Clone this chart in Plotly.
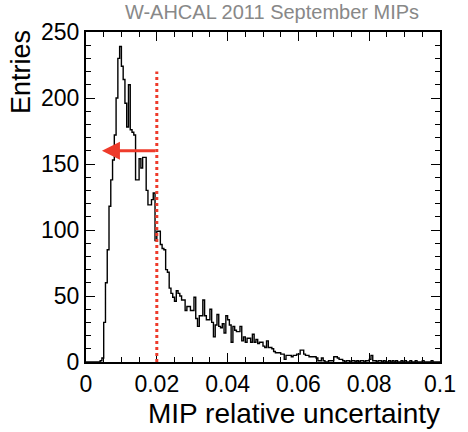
import numpy as np
import plotly.graph_objects as go

# MIP relative uncertainty histogram, 200 bins from 0 to 0.1
bin_width = 0.0005
counts = [
    0, 0, 0, 0, 0, 0, 0, 0, 1, 3,
    30, 60, 85, 118, 138, 153, 172, 200, 230, 239,
    224, 214, 196, 178, 210, 176, 174, 172, 138, 138,
    154, 147, 155, 155, 130, 119, 119, 123, 128, 92,
    99, 99, 89, 86, 85, 70, 68, 56, 52, 49,
    46, 54, 52, 50, 47, 47, 39, 42, 42, 39,
    39, 49, 33, 27, 35, 35, 47, 35, 32, 32,
    40, 30, 19, 28, 36, 27, 26, 29, 22, 35,
    32, 28, 15, 27, 24, 23, 23, 27, 16, 19,
    15, 18, 18, 15, 21, 15, 17, 14, 15, 15,
    12, 11, 16, 11, 11, 10, 8, 7, 7, 7,
    6, 6, 2, 5, 5, 5, 4, 5, 5, 6,
    6, 9, 9, 6, 5, 5, 4, 4, 4, 4,
    3, 1, 1, 3, 1, 0, 0, 1, 1, 1,
    4, 4, 3, 2, 2, 1, 0, 1, 1, 0,
    1, 1, 0, 1, 0, 1, 1, 0, 1, 1,
    2, 5, 1, 1, 0, 1, 1, 0, 1, 0,
    0, 1, 0, 1, 0, 1, 0, 0, 1, 0,
    1, 0, 0, 1, 0, 0, 1, 0, 0, 0,
    1, 0, 0, 0, 0, 1, 0, 0, 0, 0,
]
cut_value = 0.02
cut_height = 220
arrow_level = 160
arrow_tip = 0.0045

title_text = "W-AHCAL 2011 September MIPs"
x_title = "MIP relative uncertainty"
y_title = "Entries"
x_ticks = [0, 0.02, 0.04, 0.06, 0.08, 0.1]
x_ticktext = ["0", "0.02", "0.04", "0.06", "0.08", "0.1"]
y_ticks = [0, 50, 100, 150, 200, 250]

red = "#ee3b2b"
font = "Liberation Sans, Arial, sans-serif"

edges = np.arange(len(counts) + 1) * bin_width
xs = np.concatenate([[edges[0]], edges])
ys = np.concatenate([[0], counts, [counts[-1]]])

fig = go.Figure()
fig.add_trace(go.Scatter(
    x=xs, y=ys, mode="lines", line=dict(color="black", width=1.4, shape="hv"),
    hoverinfo="skip", showlegend=False,
))

# cut line and arrow
fig.add_shape(type="line", x0=cut_value, x1=cut_value, y0=0, y1=cut_height,
              xref="x", yref="y", line=dict(color=red, width=3, dash="dot"))
fig.add_annotation(x=arrow_tip, y=arrow_level, ax=cut_value, ay=arrow_level,
                   xref="x", yref="y", axref="x", ayref="y", text="",
                   showarrow=True, arrowhead=2, arrowsize=1.2, arrowwidth=3,
                   arrowcolor=red)

axis_common = dict(
    showline=True, linecolor="black", linewidth=2, mirror="allticks",
    ticks="inside", ticklen=9, tickwidth=1.2, tickcolor="black",
    showgrid=False, zeroline=False,
    tickfont=dict(family=font, size=23, color="black"),
)

fig.update_xaxes(range=[0, 0.1], tickvals=x_ticks, ticktext=x_ticktext,
                 minor=dict(dtick=0.005, ticklen=5, ticks="inside", tickcolor="black", showgrid=False),
                 **axis_common)
fig.update_yaxes(range=[0, 250], tickvals=y_ticks,
                 minor=dict(dtick=10, ticklen=5, ticks="inside", tickcolor="black", showgrid=False),
                 **axis_common)

fig.add_annotation(text=x_title, xref="paper", yref="paper", x=1.0, y=0,
                   xanchor="right", yanchor="middle", yshift=-51, xshift=2,
                   showarrow=False, font=dict(family=font, size=28, color="black"))
fig.add_annotation(text=y_title, xref="paper", yref="paper", x=0, y=1.0,
                   xanchor="center", yanchor="top", xshift=-65, yshift=4,
                   textangle=-90, showarrow=False,
                   font=dict(family=font, size=27, color="black"))

fig.update_layout(
    width=468, height=432,
    margin=dict(l=86, r=21, t=32, b=70),
    plot_bgcolor="white", paper_bgcolor="white",
    title=dict(text=title_text, x=272 / 468, xanchor="center", xref="container",
               y=1 - 12 / 432, yanchor="middle",
               font=dict(family=font, size=20, color="#888888")),
)

fig.write_html("out.html", config={"displayModeBar": False},
               post_script="document.body.style.margin='0';")
